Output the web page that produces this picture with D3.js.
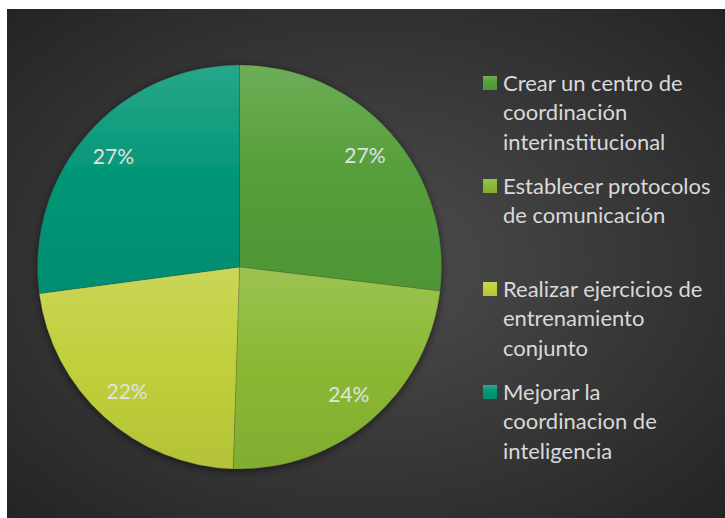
<!DOCTYPE html>
<html>
<head>
<meta charset="utf-8">
<script src="https://cdn.jsdelivr.net/npm/d3@7"></script>
<style>
  html, body { margin: 0; padding: 0; background: #ffffff; }
  svg { display: block; }
</style>
</head>
<body>
<div id="chart"></div>
<script>
// chart data
var categories = [
  "Crear un centro de coordinación interinstitucional",
  "Establecer protocolos de comunicación",
  "Realizar ejercicios de entrenamiento conjunto",
  "Mejorar la coordinacion de inteligencia"
];
var legendLines = [
  ["Crear un centro de", "coordinación", "interinstitucional"],
  ["Establecer protocolos", "de comunicación"],
  ["Realizar ejercicios de", "entrenamiento", "conjunto"],
  ["Mejorar la", "coordinacion de", "inteligencia"]
];
var values = [26.9, 23.6, 22.4, 27.1];
var colors = ["#549E39", "#8AB833", "#C0CF3A", "#029676"];

var width = 725, height = 518;

var svg = d3.select("#chart").append("svg")
  .attr("width", width)
  .attr("height", height);

var defs = svg.append("defs");

// background
var bg = defs.append("radialGradient")
  .attr("id", "bgGrad")
  .attr("cx", "50%").attr("cy", "50%").attr("r", "72%");
bg.append("stop").attr("offset", "0%").attr("stop-color", "#4e4e4e");
bg.append("stop").attr("offset", "100%").attr("stop-color", "#232323");

svg.append("rect")
  .attr("x", 7).attr("y", 9)
  .attr("width", width - 7).attr("height", height - 9)
  .attr("fill", "url(#bgGrad)");

// slice gradients
colors.forEach(function (c, i) {
  var g = defs.append("linearGradient")
    .attr("id", "slice" + i)
    .attr("x1", 0).attr("y1", 0).attr("x2", 0).attr("y2", 1);
  g.append("stop").attr("offset", "0%").attr("stop-color", d3.interpolateRgb(c, "#ffffff")(0.15));
  g.append("stop").attr("offset", "50%").attr("stop-color", c);
  g.append("stop").attr("offset", "100%").attr("stop-color", d3.interpolateRgb(c, "#000000")(0.06));
});

var shadow = defs.append("filter")
  .attr("id", "shadow")
  .attr("x", "-20%").attr("y", "-20%").attr("width", "140%").attr("height", "140%");
shadow.append("feDropShadow")
  .attr("dx", 0).attr("dy", 2)
  .attr("stdDeviation", 4)
  .attr("flood-color", "#000000")
  .attr("flood-opacity", 0.55);

var cx = 239.5, cy = 267, radius = 202;

var pie = d3.pie().sort(null).value(function (d) { return d; });
var arc = d3.arc().innerRadius(0).outerRadius(radius);
var labelArc = d3.arc().innerRadius(radius * 0.83).outerRadius(radius * 0.83);

var arcs = pie(values);
var total = d3.sum(values);

var pieG = svg.append("g")
  .attr("transform", "translate(" + cx + "," + cy + ")");

pieG.append("g")
  .attr("filter", "url(#shadow)")
  .selectAll("path")
  .data(arcs)
  .enter().append("path")
  .attr("d", arc)
  .attr("fill", function (d, i) { return "url(#slice" + i + ")"; })
  .attr("stroke", "rgba(60,60,60,0.35)")
  .attr("stroke-width", 0.6);

pieG.selectAll("text.pct")
  .data(arcs)
  .enter().append("text")
  .attr("class", "pct")
  .attr("transform", function (d) { return "translate(" + labelArc.centroid(d) + ")"; })
  .attr("text-anchor", "middle")
  .attr("dy", "0.35em")
  .attr("font-family", "Lato, 'Open Sans', sans-serif")
  .attr("font-size", 21)
  .attr("fill", "#e2e2e2")
  .text(function (d) { return Math.round(d.value / total * 100) + "%"; });

// legend
var legendX = 483, legendTop = 76, slot = 103, lineH = 29.3;

var legend = svg.append("g");
var items = legend.selectAll("g.item")
  .data(legendLines)
  .enter().append("g")
  .attr("class", "item")
  .attr("transform", function (d, i) { return "translate(" + legendX + "," + (legendTop + i * slot) + ")"; });

items.append("rect")
  .attr("x", 0).attr("y", 0)
  .attr("width", 14).attr("height", 14)
  .attr("fill", function (d, i) { return "url(#slice" + i + ")"; });

items.append("text")
  .attr("x", 20)
  .attr("y", 15)
  .attr("font-family", "Lato, 'Open Sans', sans-serif")
  .attr("font-size", 22)
  .attr("fill", "#d9d9d9")
  .selectAll("tspan")
  .data(function (d) { return d; })
  .enter().append("tspan")
  .attr("x", 20)
  .attr("dy", function (d, j) { return j === 0 ? 0 : lineH; })
  .text(function (d) { return d; });
</script>
</body>
</html>
